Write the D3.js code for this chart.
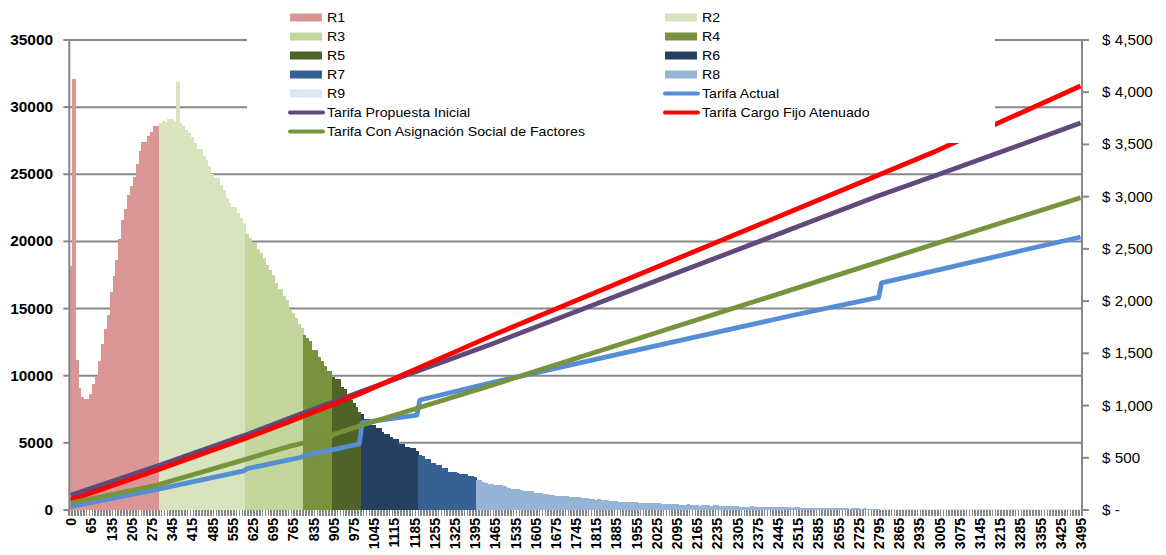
<!DOCTYPE html>
<html><head><meta charset="utf-8">
<script src="https://cdn.jsdelivr.net/npm/d3@7"></script>
<style>body{margin:0;background:#fff}svg{display:block}</style>
</head><body>
<svg id="c" width="1166" height="555"></svg>
<script>
// ---------------- DATA ----------------
// consumption categories (kWh): 0, 5, 15, 25, ... 3495
const categories = [0].concat(d3.range(5, 3500, 10));
// number of customers per category
const counts = [
 18200,32100,11200,9100,8400,8270,8270,8640,9380,9930,11100,12360,13480,14520,16260,17430,18620,20180,21600,22420,23460,24130,24800,25770,26760,27430,27430,27850,28170,28620,28620,
 28850,28970,28870,29120,29120,28920,31870,28850,28600,28300,28050,27800,27360,26880,26880,26360,26070,25620,25000,24750,24750,24200,23830,23210,22890,22540,22540,22090,21720,21350,
 20550,20230,19860,19860,19410,19160,18740,18250,17870,17500,16880,16430,16430,15940,15640,14940,14650,14270,13850,13530,
 13030,12800,12610,11920,11920,11370,11120,10720,10380,10380,
 9930,9730,9730,9140,9000,8570,8190,7950,7700,7320,
 7150,6780,6780,6330,6330,6080,6080,5830,5660,5660,5460,5260,5260,4920,4920,4720,4720,4590,4590,4420,
 4100,4000,3770,3770,3530,3530,3350,3350,3150,3150,2860,2860,2800,2730,2680,2680,2650,2530,2530,2430,
 2260,2210,2110,1990,1940,1940,1860,1860,1860,1790,
 1700,1640,1600,1560,1530,1490,1415,1415,1415,1415,
 1300,1270,1240,1200,1170,1120,1080,1040,1040,1040,
 1040,1040,970,970,970,970,890,890,890,850,
 820,770,800,745,745,745,670,670,670,600,
 570,620,620,620,570,620,520,520,520,520,
 520,520,520,520,470,470,450,450,450,450,
 370,370,370,450,370,370,370,300,370,370,
 370,300,370,370,300,300,300,300,300,300,
 300,220,220,220,220,300,220,220,220,220,
 220,220,220,220,220,220,220,220,220,170,
 220,220,150,150,150,150,150,150,150,150,
 150,150,150,150,150,150,150,150,150,100,
 150,150,150,100,150,75,75,75,75,75,
 90,140,85,80,80,80,75,80,75,75,
 75,70,75,70,70,70,70,65,70,65,
 65,65,65,60,65,60,60,60,60,60,
 60,55,60,55,55,55,55,55,50,55,
 50,50,55,50,50,50,50,50,45,50,
 50,45,45,50,45,45,45,45,45,45,
 45,40,45,45,40,45,40,40,40,45
];
const regionNames  = ["R1","R2","R3","R4","R5","R6","R7","R8","R9"];
const regionStarts = [0, 305, 605, 805, 905, 1005, 1205, 1405, 2805];
const regionColors = ["#D99694","#D7E4BD","#C3D69B","#77933C","#4F6228","#254061","#376092","#95B3D7","#DCE6F2"];

// tariff lines ($), read at selected categories
const actualCats = [0,295,595,605,755,795,805,895,905,995,1005,1195,1205,1455,1995,2495,2795,2805,2995,3495];
const actualVals = [32,198,375,395,482,505,522,572,578,632,836,909,1053,1220,1554,1862,2035,2175,2295,2614];
const propuestaCats = [0,295,595,755,995,1455,1995,2495,2795,2995,3495];
const propuestaVals = [140,420,712,880,1128,1590,2163,2692,3008,3204,3705];
const cargoCats = [0,295,595,755,995,1455,1995,2495,2995,3495];
const cargoVals = [96,383,679,848,1110,1670,2290,2862,3438,4059];
const socialCats = [0,295,595,755,895,905,995,1455,1995,2495,2995,3495];
const socialVals = [67,239,480,612,700,722,805,1195,1671,2110,2552,2990];

const leftTicks  = [0,5000,10000,15000,20000,25000,30000,35000];
const rightTicks = [0,500,1000,1500,2000,2500,3000,3500,4000,4500];
const xTickLabels = categories.filter((d, i) => i % 7 === 0);

const lineSeries = [
  {name:"Tarifa Actual", cats:actualCats, vals:actualVals, color:"#558ED5"},
  {name:"Tarifa Propuesta Inicial", cats:propuestaCats, vals:propuestaVals, color:"#604A7B"},
  {name:"Tarifa Cargo Fijo Atenuado", cats:cargoCats, vals:cargoVals, color:"#FF0000"},
  {name:"Tarifa Con Asignación Social de Factores", cats:socialCats, vals:socialVals, color:"#77933C"}
];

// ---------------- CHART ----------------
const svg = d3.select("#c");
const plotL = 69.3, plotR = 1082, plotT = 40, plotB = 510;
const GRID = "#878787";
const FONT = "'Liberation Sans', Arial, sans-serif";

const x = d3.scaleBand().domain(categories).range([plotL, plotR]).paddingInner(0).paddingOuter(0);
const yL = d3.scaleLinear().domain([0, 35000]).range([plotB, plotT]);
const yR = d3.scaleLinear().domain([0, 4500]).range([plotB, plotT]);
const bw = x.bandwidth();

// gridlines
svg.append("g").selectAll("line").data(leftTicks.filter(d => d > 0)).join("line")
  .attr("x1", plotL).attr("x2", plotR)
  .attr("y1", d => yL(d)).attr("y2", d => yL(d))
  .attr("stroke", GRID).attr("stroke-width", 2);

// bars
const regionOf = c => { let r = 0; regionStarts.forEach((s, i) => { if (c >= s) r = i; }); return r; };
svg.append("g").attr("shape-rendering", "crispEdges")
  .selectAll("rect").data(categories).join("rect")
  .attr("x", d => x(d)).attr("width", bw + 0.6)
  .attr("y", (d, i) => yL(counts[i]))
  .attr("height", (d, i) => plotB - yL(counts[i]))
  .attr("fill", d => regionColors[regionOf(d)]);

// axes lines
svg.append("line").attr("x1", plotL).attr("x2", plotL).attr("y1", plotT).attr("y2", plotB + 6)
  .attr("stroke", GRID).attr("stroke-width", 2);
svg.append("line").attr("x1", plotR).attr("x2", plotR).attr("y1", plotT).attr("y2", plotB)
  .attr("stroke", GRID).attr("stroke-width", 2);

// left ticks + labels
const gl = svg.append("g");
gl.selectAll("line").data(leftTicks).join("line")
  .attr("x1", plotL - 6).attr("x2", plotL).attr("y1", d => yL(d)).attr("y2", d => yL(d))
  .attr("stroke", GRID).attr("stroke-width", 2);
gl.selectAll("text").data(leftTicks).join("text")
  .attr("transform", d => `translate(53,${yL(d)}) scale(1.1,1)`)
  .attr("text-anchor", "end").attr("dy", "0.36em")
  .style("font", `bold 14px ${FONT}`).attr("fill", "#000")
  .text(d => d);

// right ticks + labels
const gr = svg.append("g");
gr.selectAll("line").data(rightTicks).join("line")
  .attr("x1", plotR).attr("x2", plotR + 7).attr("y1", d => yR(d)).attr("y2", d => yR(d))
  .attr("stroke", GRID).attr("stroke-width", 2);
gr.selectAll("text").data(rightTicks).join("text")
  .attr("transform", d => `translate(1102,${yR(d)}) scale(1.09,1)`)
  .attr("dy", "0.36em")
  .style("font", `14px ${FONT}`).attr("fill", "#000")
  .text(d => d === 0 ? "$ -" : "$ " + d3.format(",")(d));

// bottom tick marks (category boundaries)
svg.append("g").attr("shape-rendering", "crispEdges")
  .selectAll("line").data(categories.map(c => x(c)).concat([plotR])).join("line")
  .attr("x1", d => d).attr("x2", d => d).attr("y1", plotB).attr("y2", plotB + 6)
  .attr("stroke", GRID).attr("stroke-width", 1.7);

// x labels
svg.append("g").selectAll("text").data(xTickLabels).join("text")
  .attr("transform", d => `translate(${x(d) + bw / 2},518) scale(1.08,1) rotate(-90)`)
  .attr("text-anchor", "end").attr("dy", "0.36em")
  .style("font", `bold 14px ${FONT}`).attr("fill", "#000")
  .text(d => d);

// lines
const line = d3.line().x(d => x(d[0]) + bw / 2).y(d => yR(d[1]));
lineSeries.forEach(s => {
  svg.append("path").datum(d3.zip(s.cats, s.vals))
    .attr("d", line).attr("fill", "none")
    .attr("stroke", s.color).attr("stroke-width", 4.8)
    .attr("stroke-linejoin", "round");
});

// legend
svg.append("rect").attr("x", 247).attr("y", 0).attr("width", 748).attr("height", 143).attr("fill", "#fff");
const legendItems = [
  {name:"R1", type:"bar", color:regionColors[0], col:0, row:0},
  {name:"R2", type:"bar", color:regionColors[1], col:1, row:0},
  {name:"R3", type:"bar", color:regionColors[2], col:0, row:1},
  {name:"R4", type:"bar", color:regionColors[3], col:1, row:1},
  {name:"R5", type:"bar", color:regionColors[4], col:0, row:2},
  {name:"R6", type:"bar", color:regionColors[5], col:1, row:2},
  {name:"R7", type:"bar", color:regionColors[6], col:0, row:3},
  {name:"R8", type:"bar", color:regionColors[7], col:1, row:3},
  {name:"R9", type:"bar", color:regionColors[8], col:0, row:4},
  {name:lineSeries[0].name, type:"line", color:lineSeries[0].color, col:1, row:4},
  {name:lineSeries[1].name, type:"line", color:lineSeries[1].color, col:0, row:5},
  {name:lineSeries[2].name, type:"line", color:lineSeries[2].color, col:1, row:5},
  {name:lineSeries[3].name, type:"line", color:lineSeries[3].color, col:0, row:6}
];
const colX = [290, 665];
const rowY = r => 17.5 + r * 19;
const lg = svg.append("g");
legendItems.forEach(it => {
  const x0 = colX[it.col], yc = rowY(it.row);
  if (it.type === "bar") {
    lg.append("rect").attr("x", x0).attr("y", yc - 4).attr("width", 32).attr("height", 8).attr("fill", it.color);
  } else {
    lg.append("line").attr("x1", x0).attr("x2", x0 + 33).attr("y1", yc).attr("y2", yc)
      .attr("stroke", it.color).attr("stroke-width", 4).attr("stroke-linecap", "round");
  }
  lg.append("text").attr("transform", `translate(${x0 + 37},${yc}) scale(1.09,1)`)
    .attr("dy", "0.36em").style("font", `13px ${FONT}`).attr("fill", "#000")
    .text(it.name);
});
</script>
</body></html>
